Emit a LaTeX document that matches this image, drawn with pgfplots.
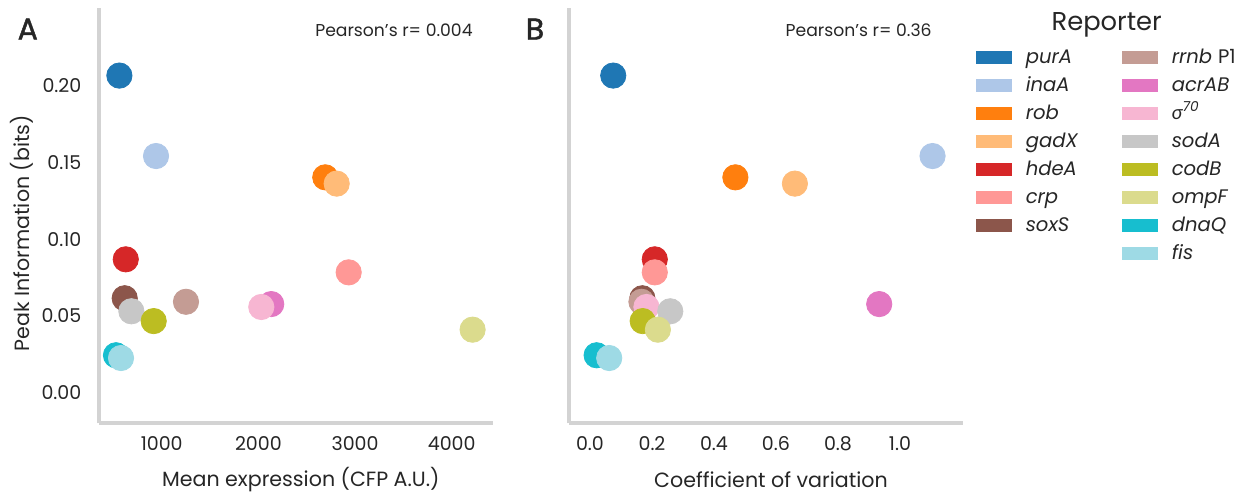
\documentclass[border=0pt]{standalone}
\usepackage{fontspec}
\setmainfont{Poppins}
\newfontfamily\grk{Lato}
\newfontfamily\pbold{Poppins}[FakeBold=1.5]
\usepackage{pgfplots}
\pgfplotsset{compat=1.18}
\definecolor{txt}{HTML}{262626}
\definecolor{axgray}{HTML}{D3D3D3}
\definecolor{cpurA}{HTML}{1F77B4}
\definecolor{cinaA}{HTML}{AEC7E8}
\definecolor{crob}{HTML}{FF7F0E}
\definecolor{cgadX}{HTML}{FFBB78}
\definecolor{chdeA}{HTML}{D62728}
\definecolor{ccrp}{HTML}{FF9896}
\definecolor{csoxS}{HTML}{8C564B}
\definecolor{crrnb}{HTML}{C49C94}
\definecolor{cacrAB}{HTML}{E377C2}
\definecolor{csig}{HTML}{F7B6D2}
\definecolor{csodA}{HTML}{C7C7C7}
\definecolor{ccodB}{HTML}{BCBD22}
\definecolor{compF}{HTML}{DBDB8D}
\definecolor{cdnaQ}{HTML}{17BECF}
\definecolor{cfis}{HTML}{9EDAE5}
\newcommand{\pnt}[3]{\addplot[only marks, color=#1, mark=*, mark size=6.33pt, mark options={draw=none, fill=#1}, forget plot] coordinates {(#2,#3)};}
\newcommand{\patch}[2]{\addlegendimage{legend image code/.code={\path[draw=none,fill=none] (0pt,-7pt) rectangle (24.67pt,7pt); \fill[#1,draw=none] (0pt,-3.25pt) rectangle (18pt,3.25pt);}}\addlegendentry{\makebox[48.33pt][l]{#2}}}
\pgfplotsset{panel/.style={
 scale only axis, height=207.5pt,
 axis x line*=bottom, axis y line*=left,
 axis line style={draw=axgray, line width=2pt},
 major tick length=0pt, tick style={draw=none},
 ymin=-0.0202, ymax=0.2506,
 tick label style={font=\fontsize{9.5}{11}\selectfont, text=txt},
 /pgf/number format/assume math mode=true,
 xticklabel style={anchor=north, inner sep=0pt, yshift=-6.5pt},
 yticklabel style={anchor=east, inner sep=0pt, xshift=-8.5pt},
 label style={font=\fontsize{10.3}{12}\selectfont, text=txt},
 xlabel style={at={(axis description cs:0.513,-0.1364)}, anchor=center},
 clip=false,
}}
\begin{document}
\begin{tikzpicture}
\useasboundingbox (0,0) rectangle (618.5pt,247pt);
\begin{axis}[panel, at={(49.35pt,35.35pt)}, anchor=south west, width=197pt,
 xmin=348, xmax=4424, xtick={1000,2000,3000,4000},
 xticklabel style={/pgf/number format/1000 sep={}},
 ytick={0,0.05,0.1,0.15,0.2},
 yticklabel style={/pgf/number format/fixed, /pgf/number format/fixed zerofill, /pgf/number format/precision=2},
 xlabel={Mean expression (CFP A.U.)}, ylabel={Peak Information (bits)},
 ylabel style={at={(axis description cs:-0.1944,0.458)}, anchor=center}]
\pnt{cpurA}{562}{0.2067}
\pnt{cinaA}{941}{0.1542}
\pnt{crob}{2692}{0.1403}
\pnt{cgadX}{2810}{0.1362}
\pnt{chdeA}{628}{0.0868}
\pnt{ccrp}{2934}{0.0783}
\pnt{csoxS}{617}{0.0614}
\pnt{crrnb}{1251}{0.0591}
\pnt{cacrAB}{2133}{0.0576}
\pnt{csig}{2030}{0.0557}
\pnt{csodA}{686}{0.0529}
\pnt{ccodB}{917}{0.0465}
\pnt{compF}{4216}{0.0409}
\pnt{cdnaQ}{527}{0.0242}
\pnt{cfis}{579}{0.0224}
\node[anchor=east, inner sep=0pt, font=\fontsize{8.6}{11}\selectfont, text=txt] at (axis description cs:0.95,0.9477) {Pearson’s r= 0.004};
\node[font=\pbold\fontsize{15}{17}\selectfont, text=txt] at (axis description cs:-0.180,0.950) {A};
\end{axis}
\begin{axis}[panel, at={(284.5pt,35.35pt)}, anchor=south west, width=196.85pt,
 xmin=-0.0677, xmax=1.2023, xtick={0,0.2,0.4,0.6,0.8,1.0},
 xticklabel style={/pgf/number format/fixed, /pgf/number format/fixed zerofill, /pgf/number format/precision=1},
 ytick=\empty,
 xlabel={Coefficient of variation},
 legend columns=2,
 legend style={at={(axis description cs:1.0338,0.917)}, anchor=north west, draw=none, fill=none,
   inner sep=0pt, column sep=0pt, row sep=0pt,
   font=\fontsize{9.8}{11}\selectfont\itshape, text=txt,
   cells={anchor=west},
   nodes={inner sep=0pt, text height=10pt, text depth=4pt}}]
\pnt{cpurA}{0.075}{0.2067}
\pnt{cinaA}{1.105}{0.1542}
\pnt{crob}{0.469}{0.1403}
\pnt{cgadX}{0.661}{0.1362}
\pnt{chdeA}{0.209}{0.0868}
\pnt{ccrp}{0.209}{0.0783}
\pnt{csoxS}{0.169}{0.0614}
\pnt{crrnb}{0.166}{0.0591}
\pnt{cacrAB}{0.933}{0.0576}
\pnt{csig}{0.182}{0.0557}
\pnt{csodA}{0.259}{0.0529}
\pnt{ccodB}{0.170}{0.0465}
\pnt{compF}{0.219}{0.0409}
\pnt{cdnaQ}{0.0215}{0.0242}
\pnt{cfis}{0.062}{0.0224}
\patch{cpurA}{purA}
\patch{crrnb}{rrnb \upshape P1}
\patch{cinaA}{inaA}
\patch{cacrAB}{acrAB}
\patch{crob}{rob}
\patch{csig}{{\grk\itshape σ}\textsuperscript{70}}
\patch{cgadX}{gadX}
\patch{csodA}{sodA}
\patch{chdeA}{hdeA}
\patch{ccodB}{codB}
\patch{ccrp}{crp}
\patch{compF}{ompF}
\patch{csoxS}{soxS}
\patch{cdnaQ}{dnaQ}
\addlegendimage{empty legend}\addlegendentry{}
\patch{cfis}{fis}
\node[anchor=east, inner sep=0pt, font=\fontsize{8.6}{11}\selectfont, text=txt] at (axis description cs:0.922,0.9477) {Pearson’s r= 0.36};
\node[font=\pbold\fontsize{15}{17}\selectfont, text=txt] at (axis description cs:-0.0864,0.950) {B};
\node[font=\fontsize{12.9}{15}\selectfont, text=txt] at (axis description cs:1.3658,0.9598) {Reporter};
\end{axis}
\end{tikzpicture}
\end{document}
